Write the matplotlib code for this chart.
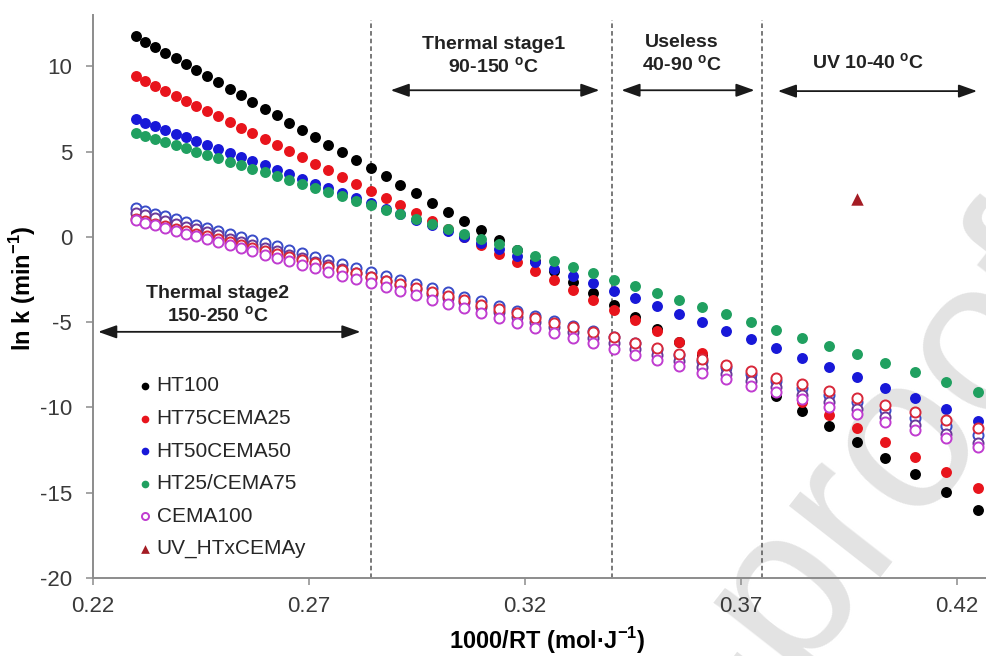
import matplotlib
matplotlib.use('Agg')
from matplotlib import pyplot as plt

plt.rcParams['font.family'] = ['Liberation Sans', 'DejaVu Sans']
plt.rcParams['mathtext.fontset'] = 'custom'
plt.rcParams['mathtext.rm'] = 'Liberation Sans'
plt.rcParams['mathtext.bf'] = 'Liberation Sans:bold'
plt.rcParams['axes.unicode_minus'] = False

# 1000/RT, one point every 5 degC from 250 down to 10 degC
inv_rt = [0.2299, 0.2321, 0.2344, 0.2367, 0.2391, 0.2415, 0.2439, 0.2464,
          0.2490, 0.2516, 0.2542, 0.2569, 0.2597, 0.2625, 0.2654, 0.2684,
          0.2714, 0.2745, 0.2777, 0.2809, 0.2843, 0.2877, 0.2911, 0.2947,
          0.2984, 0.3021, 0.3059, 0.3099, 0.3139, 0.3181, 0.3223, 0.3267,
          0.3312, 0.3358, 0.3406, 0.3455, 0.3505, 0.3557, 0.3610, 0.3665,
          0.3722, 0.3781, 0.3841, 0.3903, 0.3968, 0.4034, 0.4103, 0.4174,
          0.4248]

ht100 = [11.76, 11.44, 11.12, 10.79, 10.46, 10.12, 9.77, 9.41, 9.05, 8.68,
         8.30, 7.91, 7.52, 7.12, 6.70, 6.28, 5.85, 5.41, 4.96, 4.50, 4.02,
         3.54, 3.04, 2.54, 2.01, 1.48, 0.93, 0.37, -0.20, -0.79, -1.40,
         -2.02, -2.67, -3.32, -4.00, -4.70, -5.42, -6.15, -6.91, -7.70,
         -8.50, -9.34, -10.20, -11.08, -12.00, -12.95, -13.93, -14.94, -15.99]
ht75 = [9.41, 9.14, 8.86, 8.57, 8.28, 7.98, 7.68, 7.37, 7.06, 6.73, 6.40,
        6.07, 5.73, 5.38, 5.02, 4.65, 4.28, 3.89, 3.50, 3.10, 2.69, 2.27,
        1.84, 1.40, 0.94, 0.48, 0.00, -0.48, -0.98, -1.50, -2.02, -2.56,
        -3.12, -3.69, -4.28, -4.89, -5.51, -6.15, -6.81, -7.49, -8.19,
        -8.92, -9.66, -10.43, -11.23, -12.05, -12.90, -13.79, -14.70]
ht50 = [6.88, 6.68, 6.47, 6.27, 6.05, 5.83, 5.61, 5.39, 5.15, 4.92, 4.68,
        4.43, 4.18, 3.92, 3.66, 3.39, 3.12, 2.84, 2.55, 2.26, 1.96, 1.65,
        1.33, 1.01, 0.68, 0.34, -0.01, -0.37, -0.73, -1.11, -1.49, -1.89,
        -2.30, -2.72, -3.15, -3.59, -4.05, -4.52, -5.00, -5.50, -6.01,
        -6.54, -7.09, -7.65, -8.24, -8.84, -9.46, -10.11, -10.78]
ht25 = [6.09, 5.92, 5.74, 5.56, 5.38, 5.19, 5.00, 4.81, 4.61, 4.41, 4.20,
        3.99, 3.77, 3.55, 3.33, 3.10, 2.86, 2.62, 2.37, 2.12, 1.86, 1.60,
        1.33, 1.05, 0.77, 0.47, 0.18, -0.13, -0.45, -0.77, -1.10, -1.44,
        -1.79, -2.15, -2.52, -2.90, -3.29, -3.70, -4.11, -4.54, -4.98,
        -5.44, -5.91, -6.39, -6.89, -7.41, -7.94, -8.50, -9.07]

# open-circle series (only CEMA100 is in the legend)
open_blue = [1.66, 1.51, 1.36, 1.20, 1.04, 0.87, 0.71, 0.54, 0.36, 0.19,
             0.01, -0.18, -0.37, -0.56, -0.76, -0.96, -1.17, -1.38, -1.59,
             -1.81, -2.04, -2.27, -2.51, -2.75, -3.00, -3.26, -3.52, -3.79,
             -4.06, -4.34, -4.63, -4.93, -5.24, -5.55, -5.88, -6.21, -6.55,
             -6.91, -7.27, -7.65, -8.03, -8.43, -8.84, -9.26, -9.70, -10.16,
             -10.63, -11.11, -11.61]
open_purple = [1.40, 1.25, 1.09, 0.93, 0.77, 0.60, 0.43, 0.26, 0.09, -0.10,
               -0.28, -0.47, -0.66, -0.85, -1.05, -1.26, -1.47, -1.68, -1.90,
               -2.12, -2.35, -2.59, -2.83, -3.07, -3.33, -3.59, -3.85, -4.12,
               -4.40, -4.69, -4.98, -5.29, -5.60, -5.92, -6.25, -6.58, -6.93,
               -7.29, -7.66, -8.04, -8.43, -8.83, -9.25, -9.68, -10.12,
               -10.59, -11.06, -11.55, -12.06]
open_red = [1.05, 0.91, 0.77, 0.62, 0.48, 0.33, 0.17, 0.02, -0.15, -0.31,
            -0.48, -0.65, -0.82, -1.00, -1.18, -1.37, -1.56, -1.75, -1.95,
            -2.15, -2.36, -2.57, -2.79, -3.02, -3.25, -3.48, -3.72, -3.97,
            -4.22, -4.48, -4.75, -5.03, -5.31, -5.60, -5.90, -6.20, -6.52,
            -6.85, -7.18, -7.53, -7.88, -8.25, -8.63, -9.02, -9.42, -9.84,
            -10.27, -10.72, -11.18]
cema100 = [0.98, 0.83, 0.68, 0.52, 0.36, 0.19, 0.03, -0.14, -0.32, -0.49,
           -0.68, -0.86, -1.05, -1.24, -1.44, -1.64, -1.85, -2.06, -2.28,
           -2.50, -2.72, -2.95, -3.19, -3.43, -3.68, -3.94, -4.20, -4.47,
           -4.74, -5.03, -5.32, -5.62, -5.92, -6.24, -6.56, -6.90, -7.24,
           -7.59, -7.96, -8.33, -8.72, -9.12, -9.53, -9.95, -10.39, -10.84,
           -11.31, -11.80, -12.30]

uv_x = [0.3968]
uv_y = [2.21]

stage_lines = [0.2843, 0.3400, 0.3748]

fig = plt.figure(figsize=(9.87, 6.56), dpi=100)
ax = fig.add_axes([0.0942, 0.1189, 0.9058, 0.8582])
ax.patch.set_alpha(0)

# light watermark behind the plot
fig.text(1.12, 0.558, 'Journal Pre-proof', rotation=52, rotation_mode='anchor',
         ha='right', va='baseline', fontsize=158, color='#e3e3e3', zorder=-1)

ms = 62
ax.scatter(inv_rt, ht100, s=ms, color='#000000', lw=0, label='HT100', zorder=3)
ax.scatter(inv_rt, ht75, s=ms, color='#e8141c', lw=0, label='HT75CEMA25', zorder=3)
ax.scatter(inv_rt, ht50, s=ms, color='#1818d8', lw=0, label='HT50CEMA50', zorder=3)
ax.scatter(inv_rt, ht25, s=ms, color='#20a060', lw=0, label='HT25/CEMA75', zorder=3)
ax.scatter(inv_rt, open_blue, s=ms * 0.85, facecolors='white', edgecolors='#3a4cc8', lw=1.4, zorder=4)
ax.scatter(inv_rt, open_purple, s=ms * 0.85, facecolors='white', edgecolors='#6a3a9a', lw=1.4, zorder=4)
ax.scatter(inv_rt, open_red, s=ms * 0.85, facecolors='white', edgecolors='#d8283a', lw=1.4, zorder=4)
ax.scatter(inv_rt, cema100, s=ms * 0.85, facecolors='white', edgecolors='#c03cd0', lw=1.4,
           label='CEMA100', zorder=4)
ax.scatter(uv_x, uv_y, s=80, marker='^', color='#a41c24', lw=0, label='UV_HTxCEMAy', zorder=5)

ax.vlines(stage_lines, -20, 12.7, colors='#555555', linestyles=(0, (3, 2)), lw=1.1, zorder=2)

arrow = dict(arrowstyle='<|-|>,head_length=0.7,head_width=0.25', color='#1a1a1a',
             lw=1.3, mutation_scale=16, shrinkA=0, shrinkB=0)
ax.annotate('', xy=(0.3372, 8.59), xytext=(0.2889, 8.59), arrowprops=arrow)
ax.annotate('', xy=(0.3731, 8.59), xytext=(0.3423, 8.59), arrowprops=arrow)
ax.annotate('', xy=(0.4246, 8.54), xytext=(0.3785, 8.54), arrowprops=arrow)
ax.annotate('', xy=(0.2819, -5.57), xytext=(0.2212, -5.57), arrowprops=arrow)

tkw = dict(fontsize=14, fontweight='bold', color='#222222', ha='center', va='center',
           linespacing=1.2)
ax.text(0.3127, 10.55, 'Thermal stage1\n90-150 $^{\\mathbf{o}}$C', **tkw)
ax.text(0.3562, 10.7, 'Useless\n40-90 $^{\\mathbf{o}}$C', **tkw)
ax.text(0.3994, 10.2, 'UV 10-40 $^{\\mathbf{o}}$C', **tkw)
ax.text(0.2488, -4.0, 'Thermal stage2\n150-250 $^{\\mathbf{o}}$C', **tkw)

ax.set_xlim(0.22, 0.4269)
ax.set_ylim(-20, 13)
ax.set_xticks([0.22, 0.27, 0.32, 0.37, 0.42])
ax.set_xticklabels(['0.22', '0.27', '0.32', '0.37', '0.42'])
ax.set_yticks([-20, -15, -10, -5, 0, 5, 10])

for side in ['top', 'right']:
    ax.spines[side].set_visible(False)
for side in ['left', 'bottom']:
    ax.spines[side].set_color('#8c8c8c')
    ax.spines[side].set_linewidth(1.4)
ax.tick_params(axis='both', direction='out', length=5, width=1.1, color='#8c8c8c',
               labelsize=16, labelcolor='#3a3a3a')
ax.tick_params(axis='x', pad=8)
ax.tick_params(axis='y', pad=10)

ax.set_ylabel('ln k (min$^{\\mathbf{-1}}$)', fontsize=17, fontweight='bold')
ax.yaxis.set_label_coords(-0.062, 0.515)
ax.set_xlabel('1000/RT (mol\u00b7J$^{\\mathbf{-1}}$)', fontsize=17, fontweight='bold')
ax.xaxis.set_label_coords(0.508, -0.084)

leg = ax.legend(loc='upper left', bbox_to_anchor=(0.049, 0.358), frameon=False,
                fontsize=15, markerscale=0.7, handlelength=0.8, handletextpad=0.15,
                labelspacing=0.65, borderpad=0, borderaxespad=0)
for t in leg.get_texts():
    t.set_color('#262626')

fig.savefig('out.png', dpi=100)
